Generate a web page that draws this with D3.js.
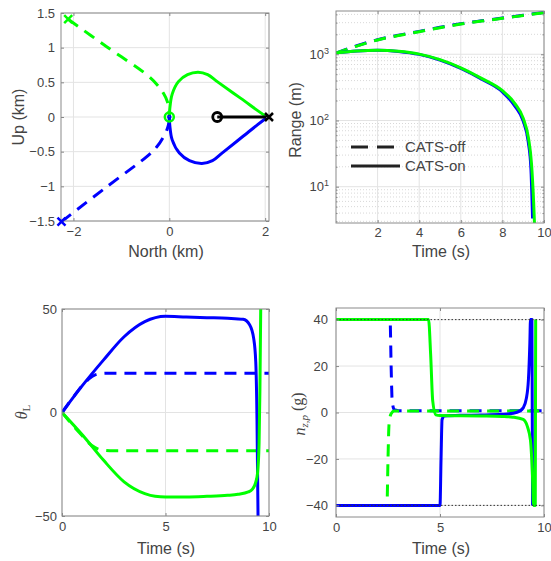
<!DOCTYPE html>
<html>
<head>
<meta charset="utf-8">
<script src="https://cdn.jsdelivr.net/npm/d3@7"></script>
<style>
body { margin: 0; background: #fff; }
svg text { font-family: "Liberation Sans", Arial, sans-serif; fill: #444; }
.tick text { font-size: 13px; }
.tick line { stroke: #888; }
</style>
</head>
<body>
<svg id="fig" width="551" height="561"></svg>
<script>
// ---- data ----

// top-left: trajectories, North / Up in km
const northGreenOff = [-2.11, -1.3, -0.47, -0.26, -0.125, -0.04, -0.007, 0]
const upGreenOff = [1.41, 1.01, 0.61, 0.47, 0.345, 0.22, 0.1, 0]
const northBlueOff = [-2.25, -1.35, -0.47, -0.26, -0.125, -0.04, -0.007, 0]
const upBlueOff = [-1.51, -1.03, -0.57, -0.43, -0.29, -0.165, -0.07, 0]
const northGreenOn = [0, 0.01, 0.06, 0.19, 0.38, 0.6, 0.8, 1.0, 1.5, 2.0, 2.08]
const upGreenOn = [0, 0.12, 0.33, 0.51, 0.61, 0.645, 0.61, 0.51, 0.265, 0.02, 0]
const northBlueOn = [0, 0.01, 0.06, 0.21, 0.42, 0.68, 0.9, 1.1, 1.5, 2.0, 2.08]
const upBlueOn = [0, -0.12, -0.33, -0.52, -0.63, -0.67, -0.63, -0.52, -0.3, -0.03, 0]
const northTarget = [1.0, 2.08]
const upTarget = [0, 0]

// top-right: range (m) vs time (s)
const timeOff = [0, 1, 2, 3, 4, 5, 6, 7, 8, 9, 10]
const rangeBlueOff = [1045, 1345, 1660, 1940, 2215, 2550, 2890, 3200, 3525, 3890, 4285]
const rangeGreenOff = [1040, 1330, 1645, 1920, 2190, 2520, 2860, 3170, 3490, 3850, 4240]
const timeBlueOn = [0, 1, 2, 3, 4, 5, 6, 7, 8, 8.6, 9, 9.24, 9.37, 9.45]
const rangeBlueOn = [1050, 1120, 1150, 1105, 995, 815, 610, 420, 270, 165, 98, 48, 19, 3.3]
const timeGreenOn = [0, 1, 2, 3, 4, 5, 6, 7, 8, 8.6, 9, 9.25, 9.4, 9.5, 9.56]
const rangeGreenOn = [1050, 1120, 1150, 1110, 1005, 830, 625, 432, 282, 180, 108, 55, 22, 6, 2]

// bottom-left: theta_L vs time
const thTimeBlueOff = [0, 0.5, 1.0, 1.3, 1.6, 2.0, 2.5, 10]
const thBlueOff = [0, 6.8, 13.2, 16.2, 18.2, 18.9, 19, 19]
const thTimeGreenOff = [0, 0.5, 1.0, 1.3, 1.6, 2.0, 2.5, 10]
const thGreenOff = [0, -6, -11.5, -14.8, -17, -18.2, -18.5, -18.5]
const thTimeBlueOn = [0, 1, 2, 3, 4, 5, 6, 7, 8, 8.75, 9.07, 9.26, 9.36, 9.42, 9.47]
const thBlueOn = [0, 13.2, 25.3, 36.6, 43.9, 46.5, 46.1, 45.8, 45.5, 45, 42.3, 35.8, 24.5, -3, -50]
const thTimeGreenOn = [0, 1, 2, 3, 4, 4.5, 5, 6, 7, 8, 8.5, 9, 9.2, 9.35, 9.45, 9.52, 9.56, 9.6]
const thGreenOn = [0, -11, -23, -33.5, -39.2, -40.5, -40.8, -40.8, -40.5, -40, -39.5, -38.4, -37, -34, -29, -15, 10, 50]

// bottom-right: n_zp (g) vs time
const nzTimeBlueOff = [0, 2.6, 2.65, 2.7, 2.8, 3, 10]
const nzBlueOff = [40, 40, 20, 5, 1.2, 0.8, 0.8]
const nzTimeGreenOff = [0, 2.45, 2.5, 2.55, 2.65, 2.8, 10]
const nzGreenOff = [-40, -40, -20, -5, -0.5, 0.6, 0.6]
const nzTimeBlueOn = [0, 5.0, 5.05, 5.1, 5.2, 6, 7, 8, 8.5, 8.8, 9.0, 9.15, 9.25, 9.32, 9.35, 9.42, 9.45]
const nzBlueOn = [-40, -40, -20, -3, -1.5, -1.2, -1.1, -0.8, -0.3, 0.5, 2, 6, 14, 30, 40, 40, -40]
const nzTimeGreenOn = [0, 4.45, 4.55, 4.65, 4.8, 5, 6, 7, 8, 8.5, 9, 9.2, 9.35, 9.45, 9.5, 9.58, 9.6]
const nzGreenOn = [40, 40, 25, 5, -1, -1.3, -1.4, -1.5, -1.7, -2, -3, -6, -12, -28, -40, -40, 40]
const nzLimits = [40, -40]

// tick labels
const tlTicksX = [-2, 0, 2]
const tlTicksY = [-1.5, -1, -0.5, 0, 0.5, 1, 1.5]
const trTicksX = [2, 4, 6, 8, 10]
const trTicksY = [10, 100, 1000]
const blTicksX = [0, 5, 10]
const blTicksY = [-50, 0, 50]
const brTicksX = [0, 5, 10]
const brTicksY = [-40, -20, 0, 20, 40]

const blue = '#0000ff'
const green = '#00ff00'

const svg = d3.select('#fig')
let clipCount = 0

// sets up one axes box: grid, clip area, ticks on all four sides
const makePanel = (box, x, y, ticksX, ticksY, opts = {}) => {
    x.range([box.left, box.right])
    y.range([box.bottom, box.top])
    const g = svg.append('g')

    // minor grid (dotted) for log axis
    if (opts.minorY) {
        g.selectAll('.minor-grid').data(opts.minorY).enter().append('line')
            .attr('x1', box.left).attr('x2', box.right)
            .attr('y1', d => y(d)).attr('y2', d => y(d))
            .attr('stroke', '#d8d8d8').attr('stroke-dasharray', '1,2')
    }
    g.selectAll('.gx').data(ticksX).enter().append('line')
        .attr('x1', d => x(d)).attr('x2', d => x(d))
        .attr('y1', box.top).attr('y2', box.bottom)
        .attr('stroke', '#e3e3e3')
    g.selectAll('.gy').data(ticksY).enter().append('line')
        .attr('x1', box.left).attr('x2', box.right)
        .attr('y1', d => y(d)).attr('y2', d => y(d))
        .attr('stroke', '#e3e3e3')

    const id = 'clip' + (clipCount++)
    svg.append('clipPath').attr('id', id).append('rect')
        .attr('x', box.left).attr('y', box.top)
        .attr('width', box.right - box.left).attr('height', box.bottom - box.top)
    const plot = svg.append('g').attr('clip-path', `url(#${id})`)

    const axes = svg.append('g')
    const noDomain = a => a.select('.domain').remove()
    axes.append('g').attr('transform', `translate(0,${box.bottom})`)
        .call(d3.axisBottom(x).tickValues(ticksX).tickSize(-3).tickPadding(opts.padX || 6).tickFormat(d3.format('')))
        .call(noDomain)
    axes.append('g').attr('transform', `translate(0,${box.top})`)
        .call(d3.axisTop(x).tickValues(ticksX).tickSize(-3).tickFormat(''))
        .call(noDomain)
    const left = axes.append('g').attr('transform', `translate(${box.left},0)`)
        .call(d3.axisLeft(y).tickValues(ticksY).tickSize(-3).tickPadding(opts.padY || 6).tickFormat(opts.fmtY || d3.format('')))
        .call(noDomain)
    axes.append('g').attr('transform', `translate(${box.right},0)`)
        .call(d3.axisRight(y).tickValues(ticksY).tickSize(-3).tickFormat(''))
        .call(noDomain)
    if (opts.minorY) {
        axes.append('g').attr('transform', `translate(${box.left},0)`)
            .call(d3.axisLeft(y).tickValues(opts.minorY).tickSize(-1.5).tickFormat(''))
            .call(noDomain)
        axes.append('g').attr('transform', `translate(${box.right},0)`)
            .call(d3.axisRight(y).tickValues(opts.minorY).tickSize(-1.5).tickFormat(''))
            .call(noDomain)
    }
    axes.append('rect')
        .attr('x', box.left).attr('y', box.top)
        .attr('width', box.right - box.left).attr('height', box.bottom - box.top)
        .attr('fill', 'none').attr('stroke', '#8a8a8a')
    return { plot, axes, left, x, y, curve: opts.curve || d3.curveMonotoneX }
}

const drawLine = (p, xs, ys, color, dashed) => {
    const line = d3.line().curve(p.curve).x(d => p.x(d[0])).y(d => p.y(d[1]))
    p.plot.append('path')
        .attr('d', line(d3.zip(xs, ys)))
        .attr('fill', 'none')
        .attr('stroke', color)
        .attr('stroke-width', 3)
        .attr('stroke-linejoin', 'round')
        .attr('stroke-dasharray', dashed ? '12,8' : null)
}

const crossMark = (p, xv, yv, color) => {
    const cx = p.x(xv), cy = p.y(yv), s = 4
    svg.append('path')
        .attr('d', `M${cx - s},${cy - s}L${cx + s},${cy + s}M${cx - s},${cy + s}L${cx + s},${cy - s}`)
        .attr('stroke', color).attr('stroke-width', 2.5)
}

const circleMark = (p, xv, yv, color, r, w) => {
    svg.append('circle')
        .attr('cx', p.x(xv)).attr('cy', p.y(yv)).attr('r', r)
        .attr('fill', 'none').attr('stroke', color).attr('stroke-width', w)
}

const yLabel = (cx, cy, build) => {
    const t = svg.append('text')
        .attr('transform', `translate(${cx},${cy}) rotate(-90)`)
        .attr('text-anchor', 'middle').attr('dy', '0.35em')
        .attr('font-size', 16)
    build(t)
}

const xLabel = (cx, by, txt) => {
    svg.append('text').attr('x', cx).attr('y', by)
        .attr('text-anchor', 'middle').attr('font-size', 16).text(txt)
}

// ---- top-left: trajectories ----
const tl = makePanel({ left: 61, right: 269, top: 13, bottom: 221 },
    d3.scaleLinear().domain([-2.26, 2.08]), d3.scaleLinear().domain([-1.5, 1.5]),
    tlTicksX, tlTicksY, { curve: d3.curveCatmullRom.alpha(0.5) })
drawLine(tl, northBlueOff, upBlueOff, blue, true)
drawLine(tl, northGreenOff, upGreenOff, green, true)
drawLine(tl, northBlueOn, upBlueOn, blue, false)
drawLine(tl, northGreenOn, upGreenOn, green, false)
drawLine(tl, northTarget, upTarget, '#000', false)
circleMark(tl, northGreenOn[0], upGreenOn[0], green, 4.5, 2.5)
circleMark(tl, northBlueOn[0], upBlueOn[0], blue, 1.5, 1.5)
circleMark(tl, northTarget[0], upTarget[0], '#000', 4.5, 2.8)
crossMark(tl, northTarget[1], upTarget[1], '#000')
crossMark(tl, northGreenOff[0], upGreenOff[0], green)
crossMark(tl, northBlueOff[0], upBlueOff[0], blue)
yLabel(18, 117, t => t.text('Up (km)'))
xLabel(166, 257, 'North (km)')

// ---- top-right: range, log scale ----
const minorRange = []
;[1, 10, 100, 1000].forEach(dec => d3.range(2, 10).forEach(k => {
    const v = k * dec
    if (v > 2.83 && v < 4500) minorRange.push(v)
}))
const tr = makePanel({ left: 336, right: 544, top: 11, bottom: 223 },
    d3.scaleLinear().domain([0, 10]), d3.scaleLog().domain([2.83, 4500]),
    trTicksX, trTicksY, { minorY: minorRange, padY: 7, padX: 5 })
tr.left.selectAll('.tick text').text(null)
    .call(t => {
        t.append('tspan').text('10')
        t.append('tspan').attr('dy', '-0.55em').attr('font-size', '9px').text(d => Math.round(Math.log10(d)))
    })
drawLine(tr, timeOff, rangeBlueOff, blue, true)
drawLine(tr, timeOff, rangeGreenOff, green, true)
drawLine(tr, timeBlueOn, rangeBlueOn, blue, false)
drawLine(tr, timeGreenOn, rangeGreenOn, green, false)
yLabel(295, 120, t => t.text('Range (m)'))
xLabel(441, 257, 'Time (s)')

// legend
const legend = svg.append('g')
const legendItems = [
    { name: 'CATS-off', dash: '17,9', y: 147 },
    { name: 'CATS-on', dash: null, y: 166 }
]
legendItems.forEach(item => {
    legend.append('line')
        .attr('x1', 351).attr('x2', 400).attr('y1', item.y).attr('y2', item.y)
        .attr('stroke', '#222').attr('stroke-width', 3)
        .attr('stroke-dasharray', item.dash)
    legend.append('text')
        .attr('x', 405).attr('y', item.y).attr('dy', '0.35em')
        .attr('font-size', 15).attr('fill', '#333').text(item.name)
})

// ---- bottom-left: theta_L ----
const bl = makePanel({ left: 62, right: 269, top: 309, bottom: 516 },
    d3.scaleLinear().domain([0, 10]), d3.scaleLinear().domain([-50, 50]),
    blTicksX, blTicksY, { padY: 5 })
drawLine(bl, thTimeBlueOff, thBlueOff, blue, true)
drawLine(bl, thTimeGreenOff, thGreenOff, green, true)
drawLine(bl, thTimeBlueOn, thBlueOn, blue, false)
drawLine(bl, thTimeGreenOn, thGreenOn, green, false)
yLabel(21, 412, t => {
    t.style('font-family', '"Liberation Serif", "DejaVu Serif", serif')
    t.append('tspan').attr('font-style', 'italic').text('θ')
    t.append('tspan').attr('dy', '0.3em').attr('font-size', 11).text('L')
})
xLabel(166, 554, 'Time (s)')

// ---- bottom-right: n_zp ----
const br = makePanel({ left: 336, right: 544, top: 308, bottom: 517 },
    d3.scaleLinear().domain([0, 10]), d3.scaleLinear().domain([-45, 45]),
    brTicksX, brTicksY, { padY: 8 })
drawLine(br, nzTimeBlueOff, nzBlueOff, blue, true)
drawLine(br, nzTimeGreenOff, nzGreenOff, green, true)
drawLine(br, nzTimeBlueOn, nzBlueOn, blue, false)
drawLine(br, nzTimeGreenOn, nzGreenOn, green, false)
br.plot.selectAll('.limit').data(nzLimits).enter().append('line')
    .attr('x1', 336).attr('x2', 544)
    .attr('y1', d => br.y(d)).attr('y2', d => br.y(d))
    .attr('stroke', '#333').attr('stroke-width', 1).attr('stroke-dasharray', '1.5,2')
yLabel(299, 414, t => {
    t.style('font-family', '"Liberation Serif", "DejaVu Serif", serif')
    t.append('tspan').attr('font-style', 'italic').text('n')
    t.append('tspan').attr('dy', '0.3em').attr('font-size', 11).attr('font-style', 'italic').text('z,p')
    t.append('tspan').attr('dy', '-0.3em').text(' (g)')
})
xLabel(441, 554, 'Time (s)')
</script>
</body>
</html>
